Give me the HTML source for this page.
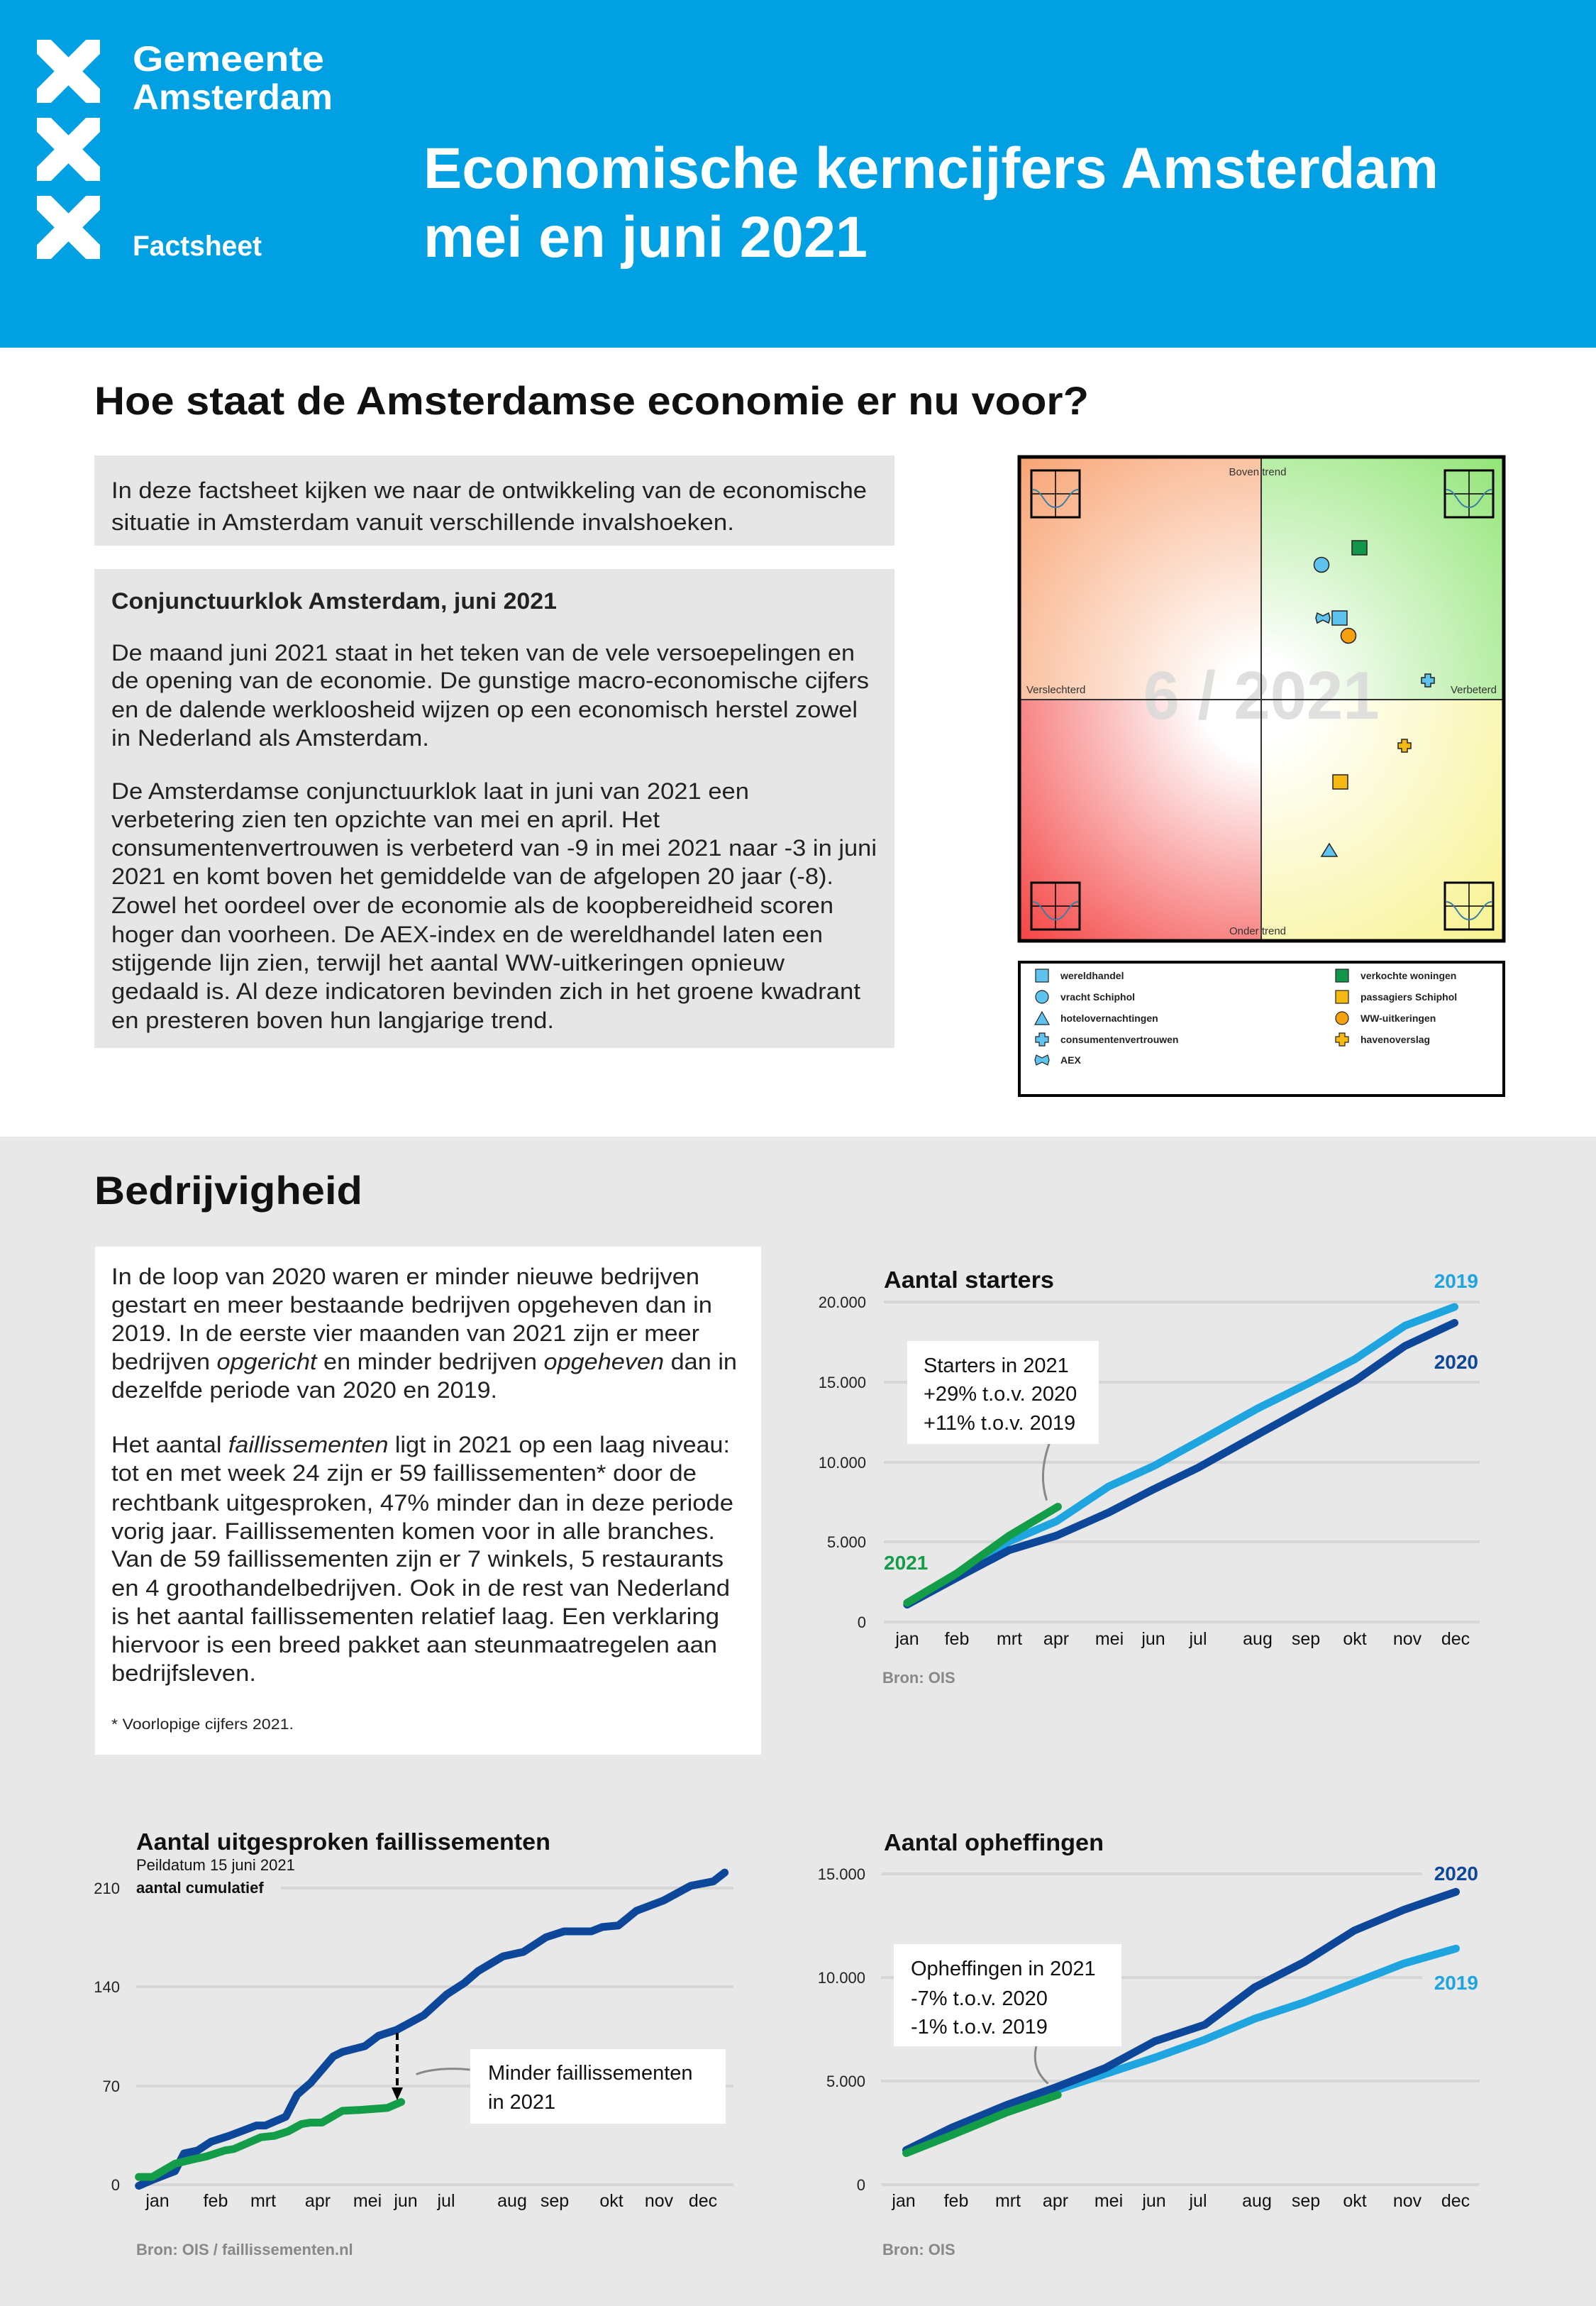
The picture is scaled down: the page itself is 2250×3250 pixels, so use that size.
<!DOCTYPE html>
<html><head><meta charset="utf-8"><style>
html,body{margin:0;padding:0;width:2250px;height:3250px;overflow:hidden;background:#fff}
svg{display:block}
text{font-family:"Liberation Sans",sans-serif}
.b{font-size:32px;fill:#222}
.t{font-size:22px;fill:#222}
.m{font-size:25px;fill:#111}
</style></head><body>
<svg width="2250" height="3250" viewBox="0 0 2250 3250" xmlns="http://www.w3.org/2000/svg">
<defs>
<radialGradient id="gTL" cx="1778" cy="986" r="560" gradientUnits="userSpaceOnUse"><stop offset="0.1" stop-color="#fff"/><stop offset="1" stop-color="#f7935a"/></radialGradient>
<radialGradient id="gTR" cx="1778" cy="986" r="560" gradientUnits="userSpaceOnUse"><stop offset="0.1" stop-color="#fff"/><stop offset="1" stop-color="#7ee05e"/></radialGradient>
<radialGradient id="gBL" cx="1778" cy="986" r="560" gradientUnits="userSpaceOnUse"><stop offset="0.15" stop-color="#fff"/><stop offset="1" stop-color="#f21d1d"/></radialGradient>
<radialGradient id="gBR" cx="1778" cy="986" r="560" gradientUnits="userSpaceOnUse"><stop offset="0.1" stop-color="#fff"/><stop offset="1" stop-color="#f6f07a"/></radialGradient>
<clipPath id="c1"><rect x="52" y="56" width="89" height="89"/></clipPath>
<clipPath id="c2"><rect x="52" y="166" width="89" height="89"/></clipPath>
<clipPath id="c3"><rect x="52" y="276" width="89" height="89"/></clipPath>
</defs>
<!-- header -->
<rect x="0" y="0" width="2250" height="490" fill="#00a0e3"/>
<g stroke="#fff" stroke-width="28">
<g clip-path="url(#c1)"><line x1="52" y1="56" x2="141" y2="145"/><line x1="141" y1="56" x2="52" y2="145"/></g>
<g clip-path="url(#c2)"><line x1="52" y1="166" x2="141" y2="255"/><line x1="141" y1="166" x2="52" y2="255"/></g>
<g clip-path="url(#c3)"><line x1="52" y1="276" x2="141" y2="365"/><line x1="141" y1="276" x2="52" y2="365"/></g>
</g>
<text x="187" y="100" font-size="50" font-weight="bold" fill="#fff" textLength="270" lengthAdjust="spacingAndGlyphs">Gemeente</text>
<text x="187" y="154" font-size="50" font-weight="bold" fill="#fff" textLength="282" lengthAdjust="spacingAndGlyphs">Amsterdam</text>
<text x="187" y="360" font-size="40" font-weight="bold" fill="#fff" textLength="182" lengthAdjust="spacingAndGlyphs">Factsheet</text>
<text x="597" y="265" font-size="82" font-weight="bold" fill="#fff" textLength="1431" lengthAdjust="spacingAndGlyphs">Economische kerncijfers Amsterdam</text>
<text x="597" y="362" font-size="82" font-weight="bold" fill="#fff" textLength="626" lengthAdjust="spacingAndGlyphs">mei en juni 2021</text>

<text x="133" y="584" font-size="56" font-weight="bold" fill="#111" textLength="1402" lengthAdjust="spacingAndGlyphs">Hoe staat de Amsterdamse economie er nu voor?</text>

<rect x="133" y="642" width="1128" height="127" fill="#e6e6e6"/>
<text class="b" x="157" y="702" textLength="1065" lengthAdjust="spacingAndGlyphs">In deze factsheet kijken we naar de ontwikkeling van de economische</text>
<text class="b" x="157" y="747" textLength="878" lengthAdjust="spacingAndGlyphs">situatie in Amsterdam vanuit verschillende invalshoeken.</text>

<rect x="133" y="802" width="1128" height="675" fill="#e6e6e6"/>
<text class="b" x="157" y="858" font-weight="bold" textLength="628" lengthAdjust="spacingAndGlyphs">Conjunctuurklok Amsterdam, juni 2021</text>
<text class="b" x="157" y="931" textLength="1048" lengthAdjust="spacingAndGlyphs">De maand juni 2021 staat in het teken van de vele versoepelingen en</text>
<text class="b" x="157" y="970" textLength="1068" lengthAdjust="spacingAndGlyphs">de opening van de economie. De gunstige macro-economische cijfers</text>
<text class="b" x="157" y="1011" textLength="1052" lengthAdjust="spacingAndGlyphs">en de dalende werkloosheid wijzen op een economisch herstel zowel</text>
<text class="b" x="157" y="1051" textLength="448" lengthAdjust="spacingAndGlyphs">in Nederland als Amsterdam.</text>
<text class="b" x="157" y="1126" textLength="899" lengthAdjust="spacingAndGlyphs">De Amsterdamse conjunctuurklok laat in juni van 2021 een</text>
<text class="b" x="157" y="1166" textLength="773" lengthAdjust="spacingAndGlyphs">verbetering zien ten opzichte van mei en april. Het</text>
<text class="b" x="157" y="1206" textLength="1079" lengthAdjust="spacingAndGlyphs">consumentenvertrouwen is verbeterd van -9 in mei 2021 naar -3 in juni</text>
<text class="b" x="157" y="1246" textLength="1018" lengthAdjust="spacingAndGlyphs">2021 en komt boven het gemiddelde van de afgelopen 20 jaar (-8).</text>
<text class="b" x="157" y="1287" textLength="1018" lengthAdjust="spacingAndGlyphs">Zowel het oordeel over de economie als de koopbereidheid scoren</text>
<text class="b" x="157" y="1328" textLength="1003" lengthAdjust="spacingAndGlyphs">hoger dan voorheen. De AEX-index en de wereldhandel laten een</text>
<text class="b" x="157" y="1368" textLength="949" lengthAdjust="spacingAndGlyphs">stijgende lijn zien, terwijl het aantal WW-uitkeringen opnieuw</text>
<text class="b" x="157" y="1408" textLength="1056" lengthAdjust="spacingAndGlyphs">gedaald is. Al deze indicatoren bevinden zich in het groene kwadrant</text>
<text class="b" x="157" y="1449" textLength="624" lengthAdjust="spacingAndGlyphs">en presteren boven hun langjarige trend.</text>

<!-- clock -->
<rect x="1437" y="644" width="341" height="342" fill="url(#gTL)"/>
<rect x="1778" y="644" width="342" height="342" fill="url(#gTR)"/>
<rect x="1437" y="986" width="341" height="340" fill="url(#gBL)"/>
<rect x="1778" y="986" width="342" height="340" fill="url(#gBR)"/>
<text x="1778" y="1013" font-size="96" font-weight="bold" fill="#d9d9d9" fill-opacity="0.85" text-anchor="middle" textLength="333" lengthAdjust="spacingAndGlyphs">6 / 2021</text>
<line x1="1778" y1="644" x2="1778" y2="1326" stroke="#333" stroke-width="2"/>
<line x1="1437" y1="986" x2="2120" y2="986" stroke="#333" stroke-width="2"/>
<rect x="1437" y="644" width="683" height="682" fill="none" stroke="#000" stroke-width="5"/>
<g fill="none" stroke="#000" stroke-width="3">
<rect x="1454" y="663" width="68" height="66"/><rect x="2037" y="663" width="68" height="66"/>
<rect x="1454" y="1244" width="68" height="66"/><rect x="2037" y="1244" width="68" height="66"/>
</g>
<g stroke="#000" stroke-width="1.5">
<line x1="1488" y1="663" x2="1488" y2="729"/><line x1="1454" y1="696" x2="1522" y2="696"/>
<line x1="2071" y1="663" x2="2071" y2="729"/><line x1="2037" y1="696" x2="2105" y2="696"/>
<line x1="1488" y1="1244" x2="1488" y2="1310"/><line x1="1454" y1="1277" x2="1522" y2="1277"/>
<line x1="2071" y1="1244" x2="2071" y2="1310"/><line x1="2037" y1="1277" x2="2105" y2="1277"/>
</g>
<g fill="none" stroke="#3a7ea0" stroke-width="2">
<path d="M1456 690 C1470 690 1472 715 1488 715 C1504 715 1506 690 1520 690"/>
<path d="M2039 690 C2053 690 2055 715 2071 715 C2087 715 2089 690 2103 690"/>
<path d="M1456 1271 C1470 1271 1472 1296 1488 1296 C1504 1296 1506 1271 1520 1271"/>
<path d="M2039 1271 C2053 1271 2055 1296 2071 1296 C2087 1296 2089 1271 2103 1271"/>
</g>
<g font-size="15" fill="#333">
<text x="1773" y="670" text-anchor="middle">Boven trend</text>
<text x="1773" y="1317" text-anchor="middle">Onder trend</text>
<text x="1447" y="977">Verslechterd</text>
<text x="2110" y="977" text-anchor="end">Verbeterd</text>
</g>
<!-- markers -->
<g stroke="#222" stroke-width="1.5">
<rect x="1906" y="762" width="21" height="20" fill="#12964a"/>
<circle cx="1863" cy="796" r="10.5" fill="#5ec4ef"/>
<rect x="1878" y="861" width="21" height="20" fill="#5ec4ef"/>
<circle cx="1901" cy="896" r="10.5" fill="#f6a20e"/>
<path d="M2009 950h8v5h5v8h-5v5h-8v-5h-5v-8h5z" fill="#5ec4ef"/>
<path d="M1976 1042h8v5h5v8h-5v5h-8v-5h-5v-8h5z" fill="#f6b912"/>
<rect x="1879" y="1092" width="21" height="20" fill="#f6b912"/>
<path d="M1874 1189 L1885 1207 L1863 1207 Z" fill="#5ec4ef"/>
<path d="M1857 864 L1865 868 L1873 864 L1875 871 L1873 878 L1865 874 L1857 878 L1855 871 Z" fill="#5ec4ef"/>
</g>
<!-- legend -->
<rect x="1437" y="1356" width="683" height="188" fill="#fff" stroke="#000" stroke-width="4"/>
<g stroke="#222" stroke-width="1.2">
<rect x="1460" y="1366" width="18" height="18" fill="#5ec4ef"/>
<circle cx="1469" cy="1405" r="9" fill="#5ec4ef"/>
<path d="M1469 1426 L1479 1444 L1459 1444 Z" fill="#5ec4ef"/>
<path d="M1465 1456h8v5h5v8h-5v5h-8v-5h-5v-8h5z" fill="#5ec4ef"/>
<path d="M1461 1487 L1469 1491 L1477 1487 L1479 1494 L1477 1501 L1469 1497 L1461 1501 L1459 1494 Z" fill="#5ec4ef"/>
<rect x="1883" y="1366" width="18" height="18" fill="#12964a"/>
<rect x="1883" y="1396" width="18" height="18" fill="#f6b912"/>
<circle cx="1892" cy="1435" r="9" fill="#f6a20e"/>
<path d="M1888 1456h8v5h5v8h-5v5h-8v-5h-5v-8h5z" fill="#f6b912"/>
</g>
<g font-size="14" font-weight="bold" fill="#222">
<text x="1495" y="1380">wereldhandel</text>
<text x="1495" y="1410">vracht Schiphol</text>
<text x="1495" y="1440">hotelovernachtingen</text>
<text x="1495" y="1470">consumentenvertrouwen</text>
<text x="1495" y="1499">AEX</text>
<text x="1918" y="1380">verkochte woningen</text>
<text x="1918" y="1410">passagiers Schiphol</text>
<text x="1918" y="1440">WW-uitkeringen</text>
<text x="1918" y="1470">havenoverslag</text>
</g>

<!-- gray section -->
<rect x="0" y="1602" width="2250" height="1648" fill="#e8e8e8"/>
<text x="133" y="1697" font-size="56" font-weight="bold" fill="#111" textLength="378" lengthAdjust="spacingAndGlyphs">Bedrijvigheid</text>
<rect x="134" y="1757" width="939" height="716" fill="#fff"/>
<text class="b" x="157" y="1810" textLength="829" lengthAdjust="spacingAndGlyphs">In de loop van 2020 waren er minder nieuwe bedrijven</text>
<text class="b" x="157" y="1850" textLength="847" lengthAdjust="spacingAndGlyphs">gestart en meer bestaande bedrijven opgeheven dan in</text>
<text class="b" x="157" y="1890" textLength="829" lengthAdjust="spacingAndGlyphs">2019.  In de eerste vier maanden van 2021 zijn er meer</text>
<text class="b" x="157" y="1930" textLength="882" lengthAdjust="spacingAndGlyphs">bedrijven <tspan font-style="italic">opgericht</tspan> en minder bedrijven <tspan font-style="italic">opgeheven</tspan> dan in</text>
<text class="b" x="157" y="1970" textLength="544" lengthAdjust="spacingAndGlyphs">dezelfde periode van 2020 en 2019.</text>
<text class="b" x="157" y="2047" textLength="872" lengthAdjust="spacingAndGlyphs">Het aantal <tspan font-style="italic">faillissementen</tspan> ligt in 2021 op een laag niveau:</text>
<text class="b" x="157" y="2087" textLength="825" lengthAdjust="spacingAndGlyphs">tot en met week 24 zijn er 59 faillissementen* door de</text>
<text class="b" x="157" y="2129" textLength="877" lengthAdjust="spacingAndGlyphs">rechtbank uitgesproken, 47% minder dan in deze periode</text>
<text class="b" x="157" y="2169" textLength="851" lengthAdjust="spacingAndGlyphs">vorig jaar. Faillissementen komen voor in alle branches.</text>
<text class="b" x="157" y="2208" textLength="863" lengthAdjust="spacingAndGlyphs">Van de 59 faillissementen zijn er 7 winkels, 5 restaurants</text>
<text class="b" x="157" y="2249" textLength="872" lengthAdjust="spacingAndGlyphs">en 4 groothandelbedrijven. Ook in de rest van Nederland</text>
<text class="b" x="157" y="2289" textLength="857" lengthAdjust="spacingAndGlyphs">is het aantal faillissementen relatief laag. Een verklaring</text>
<text class="b" x="157" y="2329" textLength="854" lengthAdjust="spacingAndGlyphs">hiervoor is een breed pakket aan steunmaatregelen aan</text>
<text class="b" x="157" y="2369" textLength="204" lengthAdjust="spacingAndGlyphs">bedrijfsleven.</text>
<text x="157" y="2437" font-size="21" fill="#222" textLength="257" lengthAdjust="spacingAndGlyphs">* Voorlopige cijfers 2021.</text>

<!-- Starters chart -->
<text x="1246" y="1815" font-size="33" font-weight="bold" fill="#111" textLength="240" lengthAdjust="spacingAndGlyphs">Aantal starters</text>
<g stroke="#d6d6d6" stroke-width="4"><line x1="1246" y1="1835" x2="2086" y2="1835"/><line x1="1246" y1="1948" x2="2086" y2="1948"/><line x1="1246" y1="2061" x2="2086" y2="2061"/><line x1="1246" y1="2173" x2="2086" y2="2173"/><line x1="1246" y1="2286" x2="2086" y2="2286"/></g>
<g class="t" text-anchor="end" font-size="22" fill="#222"><text x="1221" y="1843">20.000</text><text x="1221" y="1956">15.000</text><text x="1221" y="2069">10.000</text><text x="1221" y="2181">5.000</text><text x="1221" y="2294">0</text></g>
<g class="m" text-anchor="middle"><text x="1279" y="2318">jan</text><text x="1349" y="2318">feb</text><text x="1423" y="2318">mrt</text><text x="1489" y="2318">apr</text><text x="1564" y="2318">mei</text><text x="1626" y="2318">jun</text><text x="1689" y="2318">jul</text><text x="1773" y="2318">aug</text><text x="1841" y="2318">sep</text><text x="1910" y="2318">okt</text><text x="1984" y="2318">nov</text><text x="2052" y="2318">dec</text></g>
<g transform="translate(1100,1740) scale(0.7015,0.408)" fill="none" stroke-linejoin="round" stroke-linecap="round">
<path d="M540 725 C525 800 525 860 535 915" stroke="#888" stroke-width="3" vector-effect="non-scaling-stroke"/>
<polyline points="255,1278 355,1180 460,1060 555,990 660,870 750,800 840,715 960,600 1060,515 1155,430 1255,315 1355,250" stroke="#1ea5e0" stroke-width="11" vector-effect="non-scaling-stroke"/>
<polyline points="255,1278 355,1185 460,1090 555,1040 660,960 750,880 840,805 960,690 1060,595 1155,505 1255,385 1355,305" stroke="#0d479a" stroke-width="11" vector-effect="non-scaling-stroke"/>
<polyline points="255,1272 355,1170 460,1040 558,940" stroke="#139d48" stroke-width="11" vector-effect="non-scaling-stroke"/>
</g>
<rect x="1279" y="1890" width="270" height="145" fill="#fff"/>
<g font-size="29" fill="#111"><text x="1302" y="1934">Starters in 2021</text><text x="1302" y="1974">+29% t.o.v. 2020</text><text x="1302" y="2015">+11% t.o.v. 2019</text></g>
<text x="2084" y="1815" font-size="28" font-weight="bold" fill="#1ea5e0" text-anchor="end">2019</text>
<text x="2084" y="1929" font-size="28" font-weight="bold" fill="#0d479a" text-anchor="end">2020</text>
<text x="1246" y="2212" font-size="28" font-weight="bold" fill="#139d48">2021</text>
<text x="1244" y="2372" font-size="22" font-weight="bold" fill="#888">Bron: OIS</text>

<!-- Faillissementen chart -->
<text x="192" y="2607" font-size="33" font-weight="bold" fill="#111" textLength="584" lengthAdjust="spacingAndGlyphs">Aantal uitgesproken faillissementen</text>
<text x="192" y="2636" font-size="22" fill="#111">Peildatum 15 juni 2021</text>
<text x="192" y="2668" font-size="22" font-weight="bold" fill="#111">aantal cumulatief</text>
<g stroke="#d6d6d6" stroke-width="4"><line x1="396" y1="2661" x2="1034" y2="2661"/><line x1="192" y1="2800" x2="1034" y2="2800"/><line x1="192" y1="2940" x2="1034" y2="2940"/><line x1="192" y1="3079" x2="1034" y2="3079"/></g>
<g font-size="22" fill="#222" text-anchor="end"><text x="169" y="2669">210</text><text x="169" y="2808">140</text><text x="169" y="2948">70</text><text x="169" y="3087">0</text></g>
<g class="m" text-anchor="middle"><text x="222" y="3110">jan</text><text x="304" y="3110">feb</text><text x="371" y="3110">mrt</text><text x="448" y="3110">apr</text><text x="518" y="3110">mei</text><text x="572" y="3110">jun</text><text x="629" y="3110">jul</text><text x="722" y="3110">aug</text><text x="782" y="3110">sep</text><text x="862" y="3110">okt</text><text x="929" y="3110">nov</text><text x="991" y="3110">dec</text></g>
<g transform="translate(100,2550) scale(0.6378,0.4145)" fill="none" stroke-linejoin="round" stroke-linecap="round">
<polyline points="150,1280 180,1260 230,1230 250,1170 280,1160 310,1130 350,1110 410,1075 430,1075 475,1045 500,970 530,930 580,840 600,825 650,805 680,770 720,750 780,700 830,630 870,590 900,550 955,500 1000,485 1050,435 1090,415 1150,415 1175,400 1210,395 1250,345 1310,310 1370,260 1420,245 1445,215" stroke="#0d479a" stroke-width="11" vector-effect="non-scaling-stroke"/>
<polyline points="150,1250 180,1250 230,1205 270,1190 300,1180 340,1160 360,1155 420,1115 450,1110 480,1095 510,1070 530,1065 555,1065 600,1025 640,1022 700,1015 730,995" stroke="#139d48" stroke-width="11" vector-effect="non-scaling-stroke"/>
<path d="M765 900 C800 880 850 880 880 885" stroke="#888" stroke-width="3" vector-effect="non-scaling-stroke"/>
</g>
<line x1="560" y1="2865" x2="560" y2="2945" stroke="#000" stroke-width="4" stroke-dasharray="10,6"/>
<path d="M552 2942 L568 2942 L560 2960 Z" fill="#000"/>
<rect x="663" y="2888" width="360" height="105" fill="#fff"/>
<g font-size="29" fill="#111"><text x="688" y="2931">Minder faillissementen</text><text x="688" y="2972">in 2021</text></g>
<text x="192" y="3178" font-size="22" font-weight="bold" fill="#888">Bron: OIS / faillissementen.nl</text>

<!-- Opheffingen chart -->
<text x="1246" y="2608" font-size="33" font-weight="bold" fill="#111" textLength="310" lengthAdjust="spacingAndGlyphs">Aantal opheffingen</text>
<g stroke="#d6d6d6" stroke-width="4"><line x1="1242" y1="2641" x2="2005" y2="2641"/><line x1="1242" y1="2787" x2="2005" y2="2787"/><line x1="1242" y1="2933" x2="2086" y2="2933"/><line x1="1242" y1="3079" x2="2086" y2="3079"/></g>
<g font-size="22" fill="#222" text-anchor="end"><text x="1220" y="2649">15.000</text><text x="1220" y="2795">10.000</text><text x="1220" y="2941">5.000</text><text x="1220" y="3087">0</text></g>
<g class="m" text-anchor="middle"><text x="1274" y="3110">jan</text><text x="1348" y="3110">feb</text><text x="1421" y="3110">mrt</text><text x="1488" y="3110">apr</text><text x="1563" y="3110">mei</text><text x="1627" y="3110">jun</text><text x="1689" y="3110">jul</text><text x="1772" y="3110">aug</text><text x="1841" y="3110">sep</text><text x="1910" y="3110">okt</text><text x="1984" y="3110">nov</text><text x="2052" y="3110">dec</text></g>
<g transform="translate(1150,2540) scale(0.6378,0.4209)" fill="none" stroke-linejoin="round" stroke-linecap="round">
<path d="M487 820 C480 870 490 910 512 940" stroke="#888" stroke-width="3" vector-effect="non-scaling-stroke"/>
<polyline points="200,1165 300,1095 420,1020 530,965 640,910 750,855 860,795 970,725 1080,670 1190,605 1300,540 1415,490" stroke="#1ea5e0" stroke-width="11" vector-effect="non-scaling-stroke"/>
<polyline points="200,1165 300,1090 420,1015 530,955 640,890 750,800 860,745 970,620 1080,535 1190,430 1300,360 1415,300" stroke="#0d479a" stroke-width="11" vector-effect="non-scaling-stroke"/>
<polyline points="200,1175 300,1115 420,1040 535,980" stroke="#139d48" stroke-width="11" vector-effect="non-scaling-stroke"/>
</g>
<rect x="1260" y="2740" width="321" height="144" fill="#fff"/>
<g font-size="29" fill="#111"><text x="1284" y="2784">Opheffingen in 2021</text><text x="1284" y="2826">-7% t.o.v. 2020</text><text x="1284" y="2866">-1% t.o.v. 2019</text></g>
<text x="2084" y="2650" font-size="28" font-weight="bold" fill="#0d479a" text-anchor="end">2020</text>
<text x="2084" y="2804" font-size="28" font-weight="bold" fill="#1ea5e0" text-anchor="end">2019</text>
<text x="1244" y="3178" font-size="22" font-weight="bold" fill="#888">Bron: OIS</text>
</svg>
</body></html>
